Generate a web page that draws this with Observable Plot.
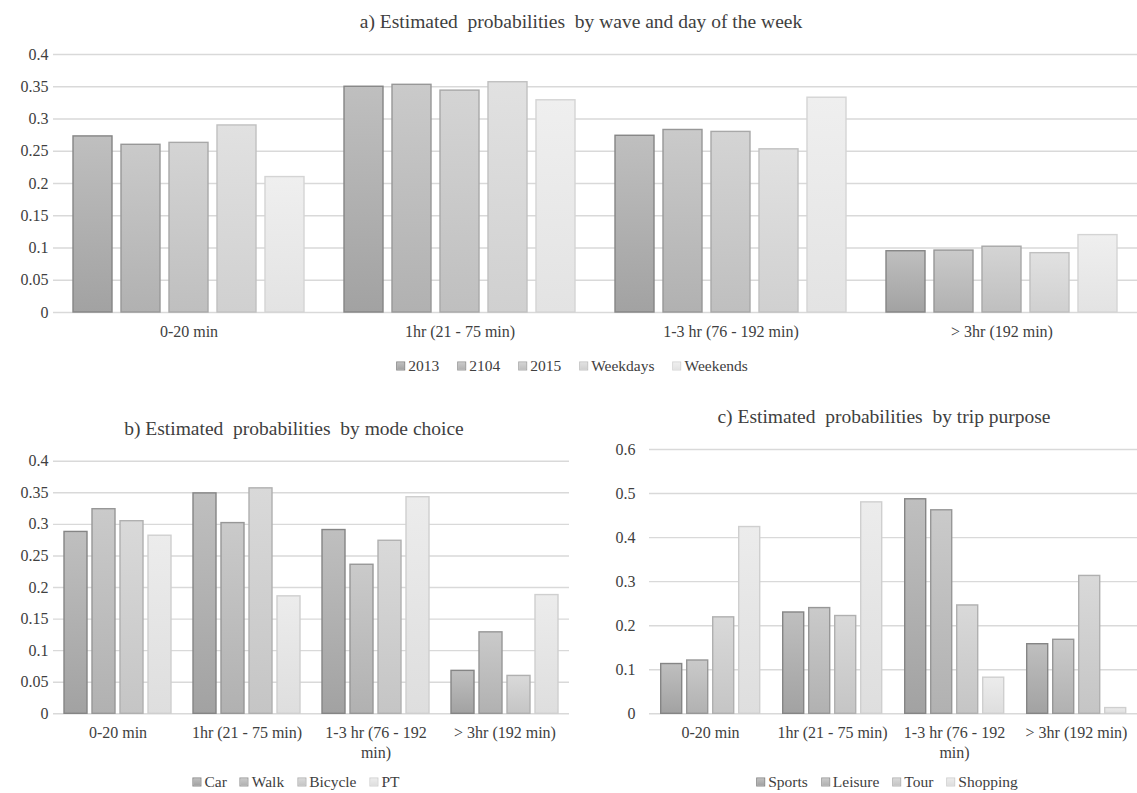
<!DOCTYPE html>
<html>
<head>
<meta charset="utf-8">
<script src="https://cdn.jsdelivr.net/npm/d3@7"></script>
<script src="https://cdn.jsdelivr.net/npm/@observablehq/plot@0.6"></script>
<style>
  html, body { margin: 0; padding: 0; background: #fff; }
  #root { position: relative; width: 1137px; height: 793px; overflow: hidden; font-family: "Liberation Serif", "DejaVu Serif", "Noto Serif", "Times New Roman", Times, serif; color: #404040; }
  .title { position: absolute; white-space: pre; font-size: 19.5px; color: #404040; transform: translate(-50%, -50%); }
  .legend { position: absolute; white-space: pre; font-size: 15.5px; line-height: 1.1; color: #404040; transform: translate(-50%, -50%); display: flex; align-items: center; }
  .legend .item { display: inline-flex; align-items: center; margin-right: 13px; }
  .legend .item:last-child { margin-right: 0; }
  .legend .sw { width: 7px; height: 7px; border: 1px solid #888; margin-right: 3px; box-sizing: content-box; }
  .panel { position: absolute; }
</style>
</head>
<body>
<div id="root"></div>
<script>
// ---------- Data ----------
const catsA = ["0-20 min", "1hr (21 - 75 min)", "1-3 hr (76 - 192 min)", "> 3hr (192 min)"];
const seriesA = ["2013", "2104", "2015", "Weekdays", "Weekends"];
const a2013 = [0.273, 0.350, 0.274, 0.095];
const a2104 = [0.260, 0.353, 0.283, 0.096];
const a2015 = [0.263, 0.344, 0.280, 0.102];
const aWeekdays = [0.290, 0.357, 0.253, 0.092];
const aWeekends = [0.210, 0.329, 0.333, 0.120];
const yTicksA = [0, 0.05, 0.1, 0.15, 0.2, 0.25, 0.3, 0.35, 0.4];

const catsB = ["0-20 min", "1hr (21 - 75 min)", "1-3 hr (76 - 192\nmin)", "> 3hr (192 min)"];
const seriesB = ["Car", "Walk", "Bicycle", "PT"];
const bCar = [0.288, 0.349, 0.291, 0.068];
const bWalk = [0.324, 0.302, 0.236, 0.129];
const bBicycle = [0.305, 0.357, 0.274, 0.060];
const bPT = [0.282, 0.186, 0.343, 0.188];
const yTicksB = [0, 0.05, 0.1, 0.15, 0.2, 0.25, 0.3, 0.35, 0.4];

const catsC = ["0-20 min", "1hr (21 - 75 min)", "1-3 hr (76 - 192\nmin)", "> 3hr (192 min)"];
const seriesC = ["Sports", "Leisure", "Tour", "Shopping"];
const cSports = [0.113, 0.230, 0.487, 0.158];
const cLeisure = [0.121, 0.240, 0.462, 0.168];
const cTour = [0.219, 0.222, 0.246, 0.313];
const cShopping = [0.424, 0.480, 0.082, 0.013];
const yTicksC = [0, 0.1, 0.2, 0.3, 0.4, 0.5, 0.6];

// ---------- Styles ----------
const FONT = '"Liberation Serif", "DejaVu Serif", "Noto Serif", "Times New Roman", Times, serif';
const pal5 = [
  {top: "#bfbfbf", bottom: "#a2a2a2", stroke: "#858585"},
  {top: "#cacaca", bottom: "#b1b1b1", stroke: "#979797"},
  {top: "#d4d4d4", bottom: "#bfbfbf", stroke: "#a8a8a8"},
  {top: "#e1e1e1", bottom: "#d0d0d0", stroke: "#c0c0c0"},
  {top: "#efefef", bottom: "#e3e3e3", stroke: "#d4d4d4"}
];
const pal4 = [pal5[0], pal5[1], {top: "#d9d9d9", bottom: "#c5c5c5", stroke: "#b0b0b0"}, {top: "#ececec", bottom: "#dedede", stroke: "#cfcfcf"}];

const root = document.getElementById("root");

function addDiv(cls, text, x, y) {
  const d = document.createElement("div");
  d.className = cls;
  d.textContent = text;
  d.style.left = x + "px";
  d.style.top = y + "px";
  root.appendChild(d);
  return d;
}

function addLegend(series, pal, x, y, gap) {
  const d = document.createElement("div");
  d.className = "legend";
  d.style.left = x + "px";
  d.style.top = y + "px";
  series.forEach((s, i) => {
    const it = document.createElement("span");
    it.className = "item";
    if (gap != null && i < series.length - 1) it.style.marginRight = gap + "px";
    const sw = document.createElement("span");
    sw.className = "sw";
    sw.style.background = `linear-gradient(${pal[i].top}, ${pal[i].bottom})`;
    sw.style.borderColor = pal[i].stroke;
    it.appendChild(sw);
    const t = document.createElement("span");
    t.textContent = s;
    it.appendChild(t);
    d.appendChild(it);
  });
  root.appendChild(d);
}

function panel(o) {
  const rows = o.cats.flatMap((c, ci) => o.series.map((s, si) => ({cat: c, series: s, value: o.values[si][ci]})));
  const bars = o.series.map((s, si) => Plot.barY(rows.filter(r => r.series === s), {
    fx: "cat", x: "series", y: "value",
    fill: `url(#${o.id}-g${si})`, stroke: o.pal[si].stroke, strokeWidth: 1.4
  }));
  const svg = Plot.plot({
    width: o.width, height: o.height,
    marginTop: o.marginTop, marginBottom: o.marginBottom,
    marginLeft: o.marginLeft, marginRight: o.marginRight,
    style: {fontFamily: FONT, fontSize: "16px", color: "#404040", background: "transparent", overflow: "visible"},
    fx: {domain: o.cats, padding: 0, axis: null},
    x: {domain: o.series, paddingInner: 0.18, paddingOuter: 0.36, axis: null},
    y: {domain: [0, o.yMax], axis: null},
    marks: [
      Plot.gridY({ticks: o.yTicks, stroke: "#d9d9d9", strokeOpacity: 1, strokeWidth: 1.4}),
      ...bars,
      Plot.axisY({ticks: o.yTicks, tickSize: 0, tickPadding: o.tickPadY, tickFormat: d => String(d), label: null, fontSize: 16}),
      Plot.axisFx({anchor: "bottom", tickSize: 0, tickPadding: o.tickPadX, label: null, fontSize: 16, lineHeight: 1.2})
    ]
  });
  const defs = d3.select(svg).insert("defs", ":first-child");
  o.pal.forEach((p, i) => {
    const g = defs.append("linearGradient").attr("id", `${o.id}-g${i}`).attr("x1", 0).attr("y1", 0).attr("x2", 0).attr("y2", 1);
    g.append("stop").attr("offset", "0%").attr("stop-color", p.top);
    g.append("stop").attr("offset", "100%").attr("stop-color", p.bottom);
  });
  const wrap = document.createElement("div");
  wrap.className = "panel";
  wrap.style.left = o.left + "px";
  wrap.style.top = o.top + "px";
  wrap.appendChild(svg);
  root.appendChild(wrap);
}

// Panel a
addDiv("title", "a) Estimated  probabilities  by wave and day of the week", 581, 22);
panel({id: "pa", cats: catsA, series: seriesA, values: [a2013, a2104, a2015, aWeekdays, aWeekends],
  yTicks: yTicksA, yMax: 0.4, pal: pal5,
  left: 0, top: 40, width: 1137, height: 310, marginTop: 14, marginBottom: 38, marginLeft: 52, marginRight: 0,
  tickPadY: 5, tickPadX: 11});
addLegend(seriesA, pal5, 572, 366, 18);

// Panel b
addDiv("title", "b) Estimated  probabilities  by mode choice", 294, 429);
panel({id: "pb", cats: catsB, series: seriesB, values: [bCar, bWalk, bBicycle, bPT],
  yTicks: yTicksB, yMax: 0.4, pal: pal4,
  left: 0, top: 430, width: 585, height: 320, marginTop: 30.7, marginBottom: 36.7, marginLeft: 52, marginRight: 16,
  tickPadY: 5, tickPadX: 11});
addLegend(seriesB, pal4, 296, 782);

// Panel c
addDiv("title", "c) Estimated  probabilities  by trip purpose", 884, 417);
panel({id: "pc", cats: catsC, series: seriesC, values: [cSports, cLeisure, cTour, cShopping],
  yTicks: yTicksC, yMax: 0.6, pal: pal4,
  left: 590, top: 430, width: 547, height: 320, marginTop: 19, marginBottom: 36.7, marginLeft: 58.3, marginRight: 0,
  tickPadY: 14, tickPadX: 11});
addLegend(seriesC, pal4, 887, 782);
</script>
</body>
</html>
